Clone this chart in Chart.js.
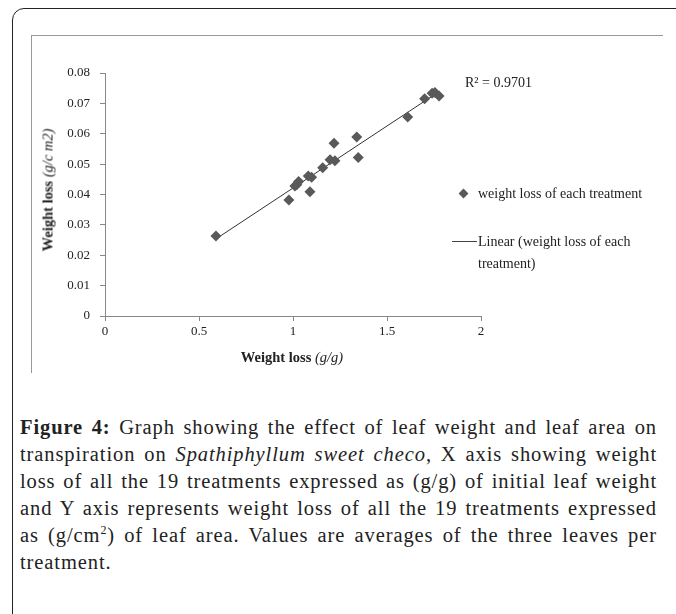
<!DOCTYPE html>
<html>
<head>
<meta charset="utf-8">
<script src="https://cdn.jsdelivr.net/npm/chart.js@4.4.0/dist/chart.umd.min.js"></script>
<style>
  body { margin: 0; background: #fff; width: 676px; height: 614px; overflow: hidden; position: relative; font-family: "Liberation Serif", serif; }
  .outer { position: absolute; left: 12px; top: 8px; width: 720px; height: 700px; border: 1.5px solid #222; border-radius: 12px; }
  .frame { position: absolute; left: 31px; top: 35px; width: 631px; height: 337px; border-top: 1px solid #999; border-left: 1px solid #999; }
  #wrap { position: absolute; left: 0; top: 0; width: 676px; height: 380px; }
  .ytitle { position: absolute; left: 48px; top: 190px; transform: translate(-50%, -50%) rotate(-90deg); white-space: nowrap; font-size: 14.5px; font-weight: bold; color: #222; }
  .xtitle { position: absolute; left: 292px; top: 357px; transform: translate(-50%, -50%); white-space: nowrap; font-size: 14.5px; font-weight: bold; color: #222; }
  .ytitle i, .xtitle i { font-weight: normal; }
  .r2 { position: absolute; left: 465px; top: 75px; font-size: 14px; color: #222; }
  .leg { position: absolute; font-size: 14px; color: #222; line-height: 22px; }
  .dia { position: absolute; left: 460px; top: 190px; width: 7px; height: 7px; background: #595959; transform: rotate(45deg); }
  .lin { position: absolute; left: 452px; top: 241px; width: 25px; height: 1px; background: #444; }
  .cap { position: absolute; left: 20px; top: 414px; width: 637px; font-size: 20.5px; letter-spacing: 0.9px; line-height: 27px; color: #222; }
  .cap div { text-align: justify; text-align-last: justify; white-space: nowrap; }
  .cap div.last { text-align-last: left; }
  .cap sup { font-size: 12px; line-height: 0; }
</style>
</head>
<body>
<div class="outer"></div>
<div class="frame"></div>
<div id="wrap"><canvas id="myChart" width="676" height="380"></canvas></div>
<div class="ytitle">Weight loss <i>(g/c m2)</i></div>
<div class="xtitle">Weight loss <i>(g/g)</i></div>
<div class="r2">R² = 0.9701</div>
<div class="dia"></div>
<div class="leg" style="left:478px; top:183px;">weight loss of each treatment</div>
<div class="lin"></div>
<div class="leg" style="left:478px; top:231px;">Linear (weight loss of each<br>treatment)</div>
<div class="cap">
  <div><b>Figure 4:</b> Graph showing the effect of leaf weight and leaf area on</div>
  <div>transpiration on <i>Spathiphyllum sweet checo</i>, X axis showing weight</div>
  <div>loss of all the 19 treatments expressed as (g/g) of initial leaf weight</div>
  <div>and Y axis represents weight loss of all the 19 treatments expressed</div>
  <div>as (g/cm<sup>2</sup>) of leaf area. Values are averages of the three leaves per</div>
  <div class="last">treatment.</div>
</div>
<script>
// weight loss per treatment: g/g of initial leaf weight (x) and g/cm2 of leaf area (y)
const lossPerWeight = [0.59, 0.978, 1.01, 1.02, 1.03, 1.081, 1.09, 1.099, 1.158, 1.197, 1.218, 1.223, 1.339, 1.347, 1.61, 1.70, 1.74, 1.755, 1.777];
const lossPerArea = [0.0263, 0.0382, 0.0428, 0.0432, 0.0443, 0.0461, 0.0409, 0.0457, 0.0488, 0.0514, 0.0569, 0.0511, 0.0589, 0.0522, 0.0655, 0.0715, 0.0733, 0.0736, 0.0724];
const xTicks = [0, 0.5, 1, 1.5, 2];
const yTicks = [0, 0.01, 0.02, 0.03, 0.04, 0.05, 0.06, 0.07, 0.08];

const points = lossPerWeight.map((x, i) => ({ x: x, y: lossPerArea[i] }));

// least squares fit for the "Linear" trendline
const n = points.length;
const mx = lossPerWeight.reduce((a, b) => a + b, 0) / n;
const my = lossPerArea.reduce((a, b) => a + b, 0) / n;
let sxy = 0, sxx = 0;
points.forEach(p => { sxy += (p.x - mx) * (p.y - my); sxx += (p.x - mx) * (p.x - mx); });
const slope = sxy / sxx;
const icpt = my - slope * mx;
const xMin = Math.min(...lossPerWeight), xMax = Math.max(...lossPerWeight);
const trend = [{ x: xMin, y: icpt + slope * xMin }, { x: xMax, y: icpt + slope * xMax }];

const tickFont = { family: "'Liberation Serif', serif", size: 13 };

var ctx = document.getElementById('myChart');
var myChart = new Chart(ctx, {
  type: 'scatter',
  data: {
    datasets: [{
      label: 'Linear (weight loss of each treatment)',
      data: trend,
      showLine: true,
      borderColor: '#333',
      borderWidth: 1,
      pointRadius: 0,
      order: 2
    }, {
      label: 'weight loss of each treatment',
      data: points,
      pointStyle: 'rectRot',
      pointRadius: 5.5,
      backgroundColor: '#595959',
      borderColor: '#595959',
      borderWidth: 0,
      order: 1
    }]
  },
  options: {
    responsive: false,
    animation: false,
    layout: { padding: { left: 55, right: 195, top: 73, bottom: 34 } },
    plugins: { legend: { display: false }, tooltip: { enabled: false } },
    scales: {
      x: {
        type: 'linear', min: 0, max: 2,
        afterBuildTicks: s => { s.ticks = xTicks.map(v => ({ value: v })); },
        afterFit: s => { s.height = 30; },
        grid: { drawOnChartArea: false, color: '#888', tickLength: 5 },
        border: { color: '#888' },
        ticks: { font: tickFont, color: '#222', padding: 3, callback: v => String(v) }
      },
      y: {
        type: 'linear', min: 0, max: 0.08,
        afterBuildTicks: s => { s.ticks = yTicks.map(v => ({ value: v })); },
        afterFit: s => { s.width = 50; },
        grid: { drawOnChartArea: false, color: '#888', tickLength: 5 },
        border: { color: '#888' },
        ticks: { font: tickFont, color: '#222', padding: 10, callback: v => String(v) }
      }
    }
  }
});
</script>
</body>
</html>
